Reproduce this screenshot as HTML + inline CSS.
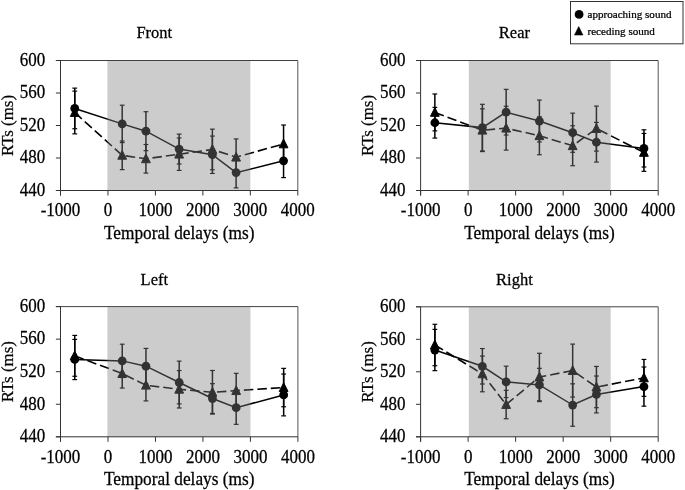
<!DOCTYPE html><html><head><meta charset="utf-8"><style>html,body{margin:0;padding:0;background:#fff;}svg{display:block;will-change:transform;}text{font-family:"Liberation Serif",serif;fill:#000;}</style></head><body>
<svg width="685" height="490" viewBox="0 0 685 490">
<line x1="74.74" y1="91.13" x2="74.74" y2="133.87" stroke="#000" stroke-width="1.5"/>
<line x1="72.34" y1="91.13" x2="77.14" y2="91.13" stroke="#000" stroke-width="1.2"/>
<line x1="72.34" y1="133.87" x2="77.14" y2="133.87" stroke="#000" stroke-width="1.2"/>
<line x1="122.2" y1="141.02" x2="122.2" y2="169.62" stroke="#000" stroke-width="1.5"/>
<line x1="119.8" y1="141.02" x2="124.6" y2="141.02" stroke="#000" stroke-width="1.2"/>
<line x1="119.8" y1="169.62" x2="124.6" y2="169.62" stroke="#000" stroke-width="1.2"/>
<line x1="145.93" y1="144.51" x2="145.93" y2="173.11" stroke="#000" stroke-width="1.5"/>
<line x1="143.53" y1="144.51" x2="148.33" y2="144.51" stroke="#000" stroke-width="1.2"/>
<line x1="143.53" y1="173.11" x2="148.33" y2="173.11" stroke="#000" stroke-width="1.2"/>
<line x1="179.15" y1="137.93" x2="179.15" y2="170.43" stroke="#000" stroke-width="1.5"/>
<line x1="176.75" y1="137.93" x2="181.55" y2="137.93" stroke="#000" stroke-width="1.2"/>
<line x1="176.75" y1="170.43" x2="181.55" y2="170.43" stroke="#000" stroke-width="1.2"/>
<line x1="212.37" y1="129.16" x2="212.37" y2="169.78" stroke="#000" stroke-width="1.5"/>
<line x1="209.97" y1="129.16" x2="214.77" y2="129.16" stroke="#000" stroke-width="1.2"/>
<line x1="209.97" y1="169.78" x2="214.77" y2="169.78" stroke="#000" stroke-width="1.2"/>
<line x1="236.1" y1="138.91" x2="236.1" y2="175.47" stroke="#000" stroke-width="1.5"/>
<line x1="233.7" y1="138.91" x2="238.5" y2="138.91" stroke="#000" stroke-width="1.2"/>
<line x1="233.7" y1="175.47" x2="238.5" y2="175.47" stroke="#000" stroke-width="1.2"/>
<line x1="283.56" y1="125.01" x2="283.56" y2="162.88" stroke="#000" stroke-width="1.5"/>
<line x1="281.16" y1="125.01" x2="285.96" y2="125.01" stroke="#000" stroke-width="1.2"/>
<line x1="281.16" y1="162.88" x2="285.96" y2="162.88" stroke="#000" stroke-width="1.2"/>
<line x1="74.74" y1="88.12" x2="74.74" y2="128.75" stroke="#000" stroke-width="1.5"/>
<line x1="72.34" y1="88.12" x2="77.14" y2="88.12" stroke="#000" stroke-width="1.2"/>
<line x1="72.34" y1="128.75" x2="77.14" y2="128.75" stroke="#000" stroke-width="1.2"/>
<line x1="122.2" y1="105.19" x2="122.2" y2="142.56" stroke="#000" stroke-width="1.5"/>
<line x1="119.8" y1="105.19" x2="124.6" y2="105.19" stroke="#000" stroke-width="1.2"/>
<line x1="119.8" y1="142.56" x2="124.6" y2="142.56" stroke="#000" stroke-width="1.2"/>
<line x1="145.93" y1="111.69" x2="145.93" y2="150.69" stroke="#000" stroke-width="1.5"/>
<line x1="143.53" y1="111.69" x2="148.33" y2="111.69" stroke="#000" stroke-width="1.2"/>
<line x1="143.53" y1="150.69" x2="148.33" y2="150.69" stroke="#000" stroke-width="1.2"/>
<line x1="179.15" y1="134.11" x2="179.15" y2="164.01" stroke="#000" stroke-width="1.5"/>
<line x1="176.75" y1="134.11" x2="181.55" y2="134.11" stroke="#000" stroke-width="1.2"/>
<line x1="176.75" y1="164.01" x2="181.55" y2="164.01" stroke="#000" stroke-width="1.2"/>
<line x1="212.37" y1="136.06" x2="212.37" y2="173.44" stroke="#000" stroke-width="1.5"/>
<line x1="209.97" y1="136.06" x2="214.77" y2="136.06" stroke="#000" stroke-width="1.2"/>
<line x1="209.97" y1="173.44" x2="214.77" y2="173.44" stroke="#000" stroke-width="1.2"/>
<line x1="236.1" y1="157.35" x2="236.1" y2="187.9" stroke="#000" stroke-width="1.5"/>
<line x1="233.7" y1="157.35" x2="238.5" y2="157.35" stroke="#000" stroke-width="1.2"/>
<line x1="233.7" y1="187.9" x2="238.5" y2="187.9" stroke="#000" stroke-width="1.2"/>
<line x1="283.56" y1="144.11" x2="283.56" y2="177.58" stroke="#000" stroke-width="1.5"/>
<line x1="281.16" y1="144.11" x2="285.96" y2="144.11" stroke="#000" stroke-width="1.2"/>
<line x1="281.16" y1="177.58" x2="285.96" y2="177.58" stroke="#000" stroke-width="1.2"/>
<polyline points="74.74,112.5 122.2,155.32 145.93,158.81 179.15,154.18 212.37,149.47 236.1,157.19 283.56,143.94" fill="none" stroke="#000" stroke-width="1.6" stroke-dasharray="9.5 4"/>
<polyline points="74.74,108.44 122.2,123.88 145.93,131.19 179.15,149.06 212.37,154.75 236.1,172.62 283.56,160.84" fill="none" stroke="#000" stroke-width="1.5"/>
<path d="M74.74 107.6L79.14 116.4L70.34 116.4Z" fill="#000" stroke="#000" stroke-width="1.0" stroke-linejoin="round"/>
<path d="M122.2 150.42L126.6 159.22L117.8 159.22Z" fill="#000" stroke="#000" stroke-width="1.0" stroke-linejoin="round"/>
<path d="M145.93 153.91L150.33 162.71L141.53 162.71Z" fill="#000" stroke="#000" stroke-width="1.0" stroke-linejoin="round"/>
<path d="M179.15 149.28L183.55 158.08L174.75 158.08Z" fill="#000" stroke="#000" stroke-width="1.0" stroke-linejoin="round"/>
<path d="M212.37 144.57L216.77 153.37L207.97 153.37Z" fill="#000" stroke="#000" stroke-width="1.0" stroke-linejoin="round"/>
<path d="M236.1 152.29L240.5 161.09L231.7 161.09Z" fill="#000" stroke="#000" stroke-width="1.0" stroke-linejoin="round"/>
<path d="M283.56 139.04L287.96 147.84L279.16 147.84Z" fill="#000" stroke="#000" stroke-width="1.0" stroke-linejoin="round"/>
<circle cx="74.74" cy="108.44" r="4.4" fill="#000"/>
<circle cx="122.2" cy="123.88" r="4.4" fill="#000"/>
<circle cx="145.93" cy="131.19" r="4.4" fill="#000"/>
<circle cx="179.15" cy="149.06" r="4.4" fill="#000"/>
<circle cx="212.37" cy="154.75" r="4.4" fill="#000"/>
<circle cx="236.1" cy="172.62" r="4.4" fill="#000"/>
<circle cx="283.56" cy="160.84" r="4.4" fill="#000"/>
<rect x="107.4" y="61" width="142.94" height="129.5" fill="rgba(128,128,128,0.4)"/>
<line x1="55.9" y1="60.5" x2="297.8" y2="60.5" stroke="#404040" stroke-width="1"/>
<line x1="297.8" y1="60.5" x2="297.8" y2="190.5" stroke="#555" stroke-width="1"/>
<line x1="60.5" y1="60.5" x2="60.5" y2="195.5" stroke="#333" stroke-width="1"/>
<line x1="55.9" y1="190.5" x2="297.8" y2="190.5" stroke="#333" stroke-width="1"/>
<line x1="55.9" y1="60.5" x2="60.5" y2="60.5" stroke="#333" stroke-width="1"/>
<text transform="translate(45.3 65.8) scale(1 1.12)" font-size="17" text-anchor="end" stroke="#000" stroke-width="0.25">600</text>
<line x1="55.9" y1="93" x2="60.5" y2="93" stroke="#333" stroke-width="1"/>
<text transform="translate(45.3 98.3) scale(1 1.12)" font-size="17" text-anchor="end" stroke="#000" stroke-width="0.25">560</text>
<line x1="55.9" y1="125.5" x2="60.5" y2="125.5" stroke="#333" stroke-width="1"/>
<text transform="translate(45.3 130.8) scale(1 1.12)" font-size="17" text-anchor="end" stroke="#000" stroke-width="0.25">520</text>
<line x1="55.9" y1="158" x2="60.5" y2="158" stroke="#333" stroke-width="1"/>
<text transform="translate(45.3 163.3) scale(1 1.12)" font-size="17" text-anchor="end" stroke="#000" stroke-width="0.25">480</text>
<line x1="55.9" y1="190.5" x2="60.5" y2="190.5" stroke="#333" stroke-width="1"/>
<text transform="translate(45.3 195.8) scale(1 1.12)" font-size="17" text-anchor="end" stroke="#000" stroke-width="0.25">440</text>
<line x1="60.5" y1="190.5" x2="60.5" y2="195.5" stroke="#333" stroke-width="1"/>
<text transform="translate(60.5 216.3) scale(1 1.12)" font-size="17" text-anchor="middle" stroke="#000" stroke-width="0.25">-1000</text>
<line x1="107.96" y1="190.5" x2="107.96" y2="195.5" stroke="#333" stroke-width="1"/>
<text transform="translate(107.96 216.3) scale(1 1.12)" font-size="17" text-anchor="middle" stroke="#000" stroke-width="0.25">0</text>
<line x1="155.42" y1="190.5" x2="155.42" y2="195.5" stroke="#333" stroke-width="1"/>
<text transform="translate(155.42 216.3) scale(1 1.12)" font-size="17" text-anchor="middle" stroke="#000" stroke-width="0.25">1000</text>
<line x1="202.88" y1="190.5" x2="202.88" y2="195.5" stroke="#333" stroke-width="1"/>
<text transform="translate(202.88 216.3) scale(1 1.12)" font-size="17" text-anchor="middle" stroke="#000" stroke-width="0.25">2000</text>
<line x1="250.34" y1="190.5" x2="250.34" y2="195.5" stroke="#333" stroke-width="1"/>
<text transform="translate(250.34 216.3) scale(1 1.12)" font-size="17" text-anchor="middle" stroke="#000" stroke-width="0.25">3000</text>
<line x1="297.8" y1="190.5" x2="297.8" y2="195.5" stroke="#333" stroke-width="1"/>
<text transform="translate(297.8 216.3) scale(1 1.12)" font-size="17" text-anchor="middle" stroke="#000" stroke-width="0.25">4000</text>
<text transform="translate(179.15 238.5) scale(1 1.06)" font-size="17.3" text-anchor="middle" stroke="#000" stroke-width="0.25">Temporal delays (ms)</text>
<text transform="translate(13.2 125.5) rotate(-90) scale(1 1.0)" font-size="16.9" text-anchor="middle" stroke="#000" stroke-width="0.25">RTs (ms)</text>
<text transform="translate(154.3 38) scale(1 1.06)" font-size="16.5" text-anchor="middle" stroke="#000" stroke-width="0.25">Front</text>
<line x1="434.86" y1="93.97" x2="434.86" y2="130.86" stroke="#000" stroke-width="1.5"/>
<line x1="432.46" y1="93.97" x2="437.26" y2="93.97" stroke="#000" stroke-width="1.2"/>
<line x1="432.46" y1="130.86" x2="437.26" y2="130.86" stroke="#000" stroke-width="1.2"/>
<line x1="482.38" y1="108.84" x2="482.38" y2="151.58" stroke="#000" stroke-width="1.5"/>
<line x1="479.98" y1="108.84" x2="484.78" y2="108.84" stroke="#000" stroke-width="1.2"/>
<line x1="479.98" y1="151.58" x2="484.78" y2="151.58" stroke="#000" stroke-width="1.2"/>
<line x1="506.14" y1="106.24" x2="506.14" y2="150.12" stroke="#000" stroke-width="1.5"/>
<line x1="503.74" y1="106.24" x2="508.54" y2="106.24" stroke="#000" stroke-width="1.2"/>
<line x1="503.74" y1="150.12" x2="508.54" y2="150.12" stroke="#000" stroke-width="1.2"/>
<line x1="539.4" y1="116.73" x2="539.4" y2="154.75" stroke="#000" stroke-width="1.5"/>
<line x1="537" y1="116.73" x2="541.8" y2="116.73" stroke="#000" stroke-width="1.2"/>
<line x1="537" y1="154.75" x2="541.8" y2="154.75" stroke="#000" stroke-width="1.2"/>
<line x1="572.66" y1="125.74" x2="572.66" y2="165.72" stroke="#000" stroke-width="1.5"/>
<line x1="570.26" y1="125.74" x2="575.06" y2="125.74" stroke="#000" stroke-width="1.2"/>
<line x1="570.26" y1="165.72" x2="575.06" y2="165.72" stroke="#000" stroke-width="1.2"/>
<line x1="596.42" y1="106.08" x2="596.42" y2="151.09" stroke="#000" stroke-width="1.5"/>
<line x1="594.02" y1="106.08" x2="598.82" y2="106.08" stroke="#000" stroke-width="1.2"/>
<line x1="594.02" y1="151.09" x2="598.82" y2="151.09" stroke="#000" stroke-width="1.2"/>
<line x1="643.94" y1="133.46" x2="643.94" y2="171.33" stroke="#000" stroke-width="1.5"/>
<line x1="641.54" y1="133.46" x2="646.34" y2="133.46" stroke="#000" stroke-width="1.2"/>
<line x1="641.54" y1="171.33" x2="646.34" y2="171.33" stroke="#000" stroke-width="1.2"/>
<line x1="434.86" y1="107.38" x2="434.86" y2="138.09" stroke="#000" stroke-width="1.5"/>
<line x1="432.46" y1="107.38" x2="437.26" y2="107.38" stroke="#000" stroke-width="1.2"/>
<line x1="432.46" y1="138.09" x2="437.26" y2="138.09" stroke="#000" stroke-width="1.2"/>
<line x1="482.38" y1="104.29" x2="482.38" y2="150.93" stroke="#000" stroke-width="1.5"/>
<line x1="479.98" y1="104.29" x2="484.78" y2="104.29" stroke="#000" stroke-width="1.2"/>
<line x1="479.98" y1="150.93" x2="484.78" y2="150.93" stroke="#000" stroke-width="1.2"/>
<line x1="506.14" y1="89.34" x2="506.14" y2="135.01" stroke="#000" stroke-width="1.5"/>
<line x1="503.74" y1="89.34" x2="508.54" y2="89.34" stroke="#000" stroke-width="1.2"/>
<line x1="503.74" y1="135.01" x2="508.54" y2="135.01" stroke="#000" stroke-width="1.2"/>
<line x1="539.4" y1="100.07" x2="539.4" y2="141.99" stroke="#000" stroke-width="1.5"/>
<line x1="537" y1="100.07" x2="541.8" y2="100.07" stroke="#000" stroke-width="1.2"/>
<line x1="537" y1="141.99" x2="541.8" y2="141.99" stroke="#000" stroke-width="1.2"/>
<line x1="572.66" y1="113.15" x2="572.66" y2="152.31" stroke="#000" stroke-width="1.5"/>
<line x1="570.26" y1="113.15" x2="575.06" y2="113.15" stroke="#000" stroke-width="1.2"/>
<line x1="570.26" y1="152.31" x2="575.06" y2="152.31" stroke="#000" stroke-width="1.2"/>
<line x1="596.42" y1="122.41" x2="596.42" y2="162.06" stroke="#000" stroke-width="1.5"/>
<line x1="594.02" y1="122.41" x2="598.82" y2="122.41" stroke="#000" stroke-width="1.2"/>
<line x1="594.02" y1="162.06" x2="598.82" y2="162.06" stroke="#000" stroke-width="1.2"/>
<line x1="643.94" y1="129.81" x2="643.94" y2="167.02" stroke="#000" stroke-width="1.5"/>
<line x1="641.54" y1="129.81" x2="646.34" y2="129.81" stroke="#000" stroke-width="1.2"/>
<line x1="641.54" y1="167.02" x2="646.34" y2="167.02" stroke="#000" stroke-width="1.2"/>
<polyline points="434.86,112.42 482.38,130.21 506.14,128.18 539.4,135.74 572.66,145.73 596.42,128.59 643.94,152.39" fill="none" stroke="#000" stroke-width="1.6" stroke-dasharray="9.5 4"/>
<polyline points="434.86,122.74 482.38,127.61 506.14,112.18 539.4,121.03 572.66,132.73 596.42,142.24 643.94,148.41" fill="none" stroke="#000" stroke-width="1.5"/>
<path d="M434.86 107.52L439.26 116.32L430.46 116.32Z" fill="#000" stroke="#000" stroke-width="1.0" stroke-linejoin="round"/>
<path d="M482.38 125.31L486.78 134.11L477.98 134.11Z" fill="#000" stroke="#000" stroke-width="1.0" stroke-linejoin="round"/>
<path d="M506.14 123.28L510.54 132.08L501.74 132.08Z" fill="#000" stroke="#000" stroke-width="1.0" stroke-linejoin="round"/>
<path d="M539.4 130.84L543.8 139.64L535 139.64Z" fill="#000" stroke="#000" stroke-width="1.0" stroke-linejoin="round"/>
<path d="M572.66 140.83L577.06 149.63L568.26 149.63Z" fill="#000" stroke="#000" stroke-width="1.0" stroke-linejoin="round"/>
<path d="M596.42 123.69L600.82 132.49L592.02 132.49Z" fill="#000" stroke="#000" stroke-width="1.0" stroke-linejoin="round"/>
<path d="M643.94 147.49L648.34 156.29L639.54 156.29Z" fill="#000" stroke="#000" stroke-width="1.0" stroke-linejoin="round"/>
<circle cx="434.86" cy="122.74" r="4.4" fill="#000"/>
<circle cx="482.38" cy="127.61" r="4.4" fill="#000"/>
<circle cx="506.14" cy="112.18" r="4.4" fill="#000"/>
<circle cx="539.4" cy="121.03" r="4.4" fill="#000"/>
<circle cx="572.66" cy="132.73" r="4.4" fill="#000"/>
<circle cx="596.42" cy="142.24" r="4.4" fill="#000"/>
<circle cx="643.94" cy="148.41" r="4.4" fill="#000"/>
<rect x="468.8" y="61" width="141.88" height="129.5" fill="rgba(128,128,128,0.4)"/>
<line x1="416" y1="60.5" x2="658.2" y2="60.5" stroke="#404040" stroke-width="1"/>
<line x1="658.2" y1="60.5" x2="658.2" y2="190.5" stroke="#555" stroke-width="1"/>
<line x1="420.6" y1="60.5" x2="420.6" y2="195.5" stroke="#333" stroke-width="1"/>
<line x1="416" y1="190.5" x2="658.2" y2="190.5" stroke="#333" stroke-width="1"/>
<line x1="416" y1="60.5" x2="420.6" y2="60.5" stroke="#333" stroke-width="1"/>
<text transform="translate(405.4 65.8) scale(1 1.12)" font-size="17" text-anchor="end" stroke="#000" stroke-width="0.25">600</text>
<line x1="416" y1="93" x2="420.6" y2="93" stroke="#333" stroke-width="1"/>
<text transform="translate(405.4 98.3) scale(1 1.12)" font-size="17" text-anchor="end" stroke="#000" stroke-width="0.25">560</text>
<line x1="416" y1="125.5" x2="420.6" y2="125.5" stroke="#333" stroke-width="1"/>
<text transform="translate(405.4 130.8) scale(1 1.12)" font-size="17" text-anchor="end" stroke="#000" stroke-width="0.25">520</text>
<line x1="416" y1="158" x2="420.6" y2="158" stroke="#333" stroke-width="1"/>
<text transform="translate(405.4 163.3) scale(1 1.12)" font-size="17" text-anchor="end" stroke="#000" stroke-width="0.25">480</text>
<line x1="416" y1="190.5" x2="420.6" y2="190.5" stroke="#333" stroke-width="1"/>
<text transform="translate(405.4 195.8) scale(1 1.12)" font-size="17" text-anchor="end" stroke="#000" stroke-width="0.25">440</text>
<line x1="420.6" y1="190.5" x2="420.6" y2="195.5" stroke="#333" stroke-width="1"/>
<text transform="translate(420.6 216.3) scale(1 1.12)" font-size="17" text-anchor="middle" stroke="#000" stroke-width="0.25">-1000</text>
<line x1="468.12" y1="190.5" x2="468.12" y2="195.5" stroke="#333" stroke-width="1"/>
<text transform="translate(468.12 216.3) scale(1 1.12)" font-size="17" text-anchor="middle" stroke="#000" stroke-width="0.25">0</text>
<line x1="515.64" y1="190.5" x2="515.64" y2="195.5" stroke="#333" stroke-width="1"/>
<text transform="translate(515.64 216.3) scale(1 1.12)" font-size="17" text-anchor="middle" stroke="#000" stroke-width="0.25">1000</text>
<line x1="563.16" y1="190.5" x2="563.16" y2="195.5" stroke="#333" stroke-width="1"/>
<text transform="translate(563.16 216.3) scale(1 1.12)" font-size="17" text-anchor="middle" stroke="#000" stroke-width="0.25">2000</text>
<line x1="610.68" y1="190.5" x2="610.68" y2="195.5" stroke="#333" stroke-width="1"/>
<text transform="translate(610.68 216.3) scale(1 1.12)" font-size="17" text-anchor="middle" stroke="#000" stroke-width="0.25">3000</text>
<line x1="658.2" y1="190.5" x2="658.2" y2="195.5" stroke="#333" stroke-width="1"/>
<text transform="translate(658.2 216.3) scale(1 1.12)" font-size="17" text-anchor="middle" stroke="#000" stroke-width="0.25">4000</text>
<text transform="translate(539.4 238.5) scale(1 1.06)" font-size="17.3" text-anchor="middle" stroke="#000" stroke-width="0.25">Temporal delays (ms)</text>
<text transform="translate(373.3 125.5) rotate(-90) scale(1 1.0)" font-size="16.9" text-anchor="middle" stroke="#000" stroke-width="0.25">RTs (ms)</text>
<text transform="translate(514.4 38) scale(1 1.06)" font-size="16.5" text-anchor="middle" stroke="#000" stroke-width="0.25">Rear</text>
<line x1="74.74" y1="335.41" x2="74.74" y2="376.26" stroke="#000" stroke-width="1.5"/>
<line x1="72.34" y1="335.41" x2="77.14" y2="335.41" stroke="#000" stroke-width="1.2"/>
<line x1="72.34" y1="376.26" x2="77.14" y2="376.26" stroke="#000" stroke-width="1.2"/>
<line x1="122.22" y1="359.09" x2="122.22" y2="388.06" stroke="#000" stroke-width="1.5"/>
<line x1="119.82" y1="359.09" x2="124.62" y2="359.09" stroke="#000" stroke-width="1.2"/>
<line x1="119.82" y1="388.06" x2="124.62" y2="388.06" stroke="#000" stroke-width="1.2"/>
<line x1="145.96" y1="369.5" x2="145.96" y2="400.91" stroke="#000" stroke-width="1.5"/>
<line x1="143.56" y1="369.5" x2="148.36" y2="369.5" stroke="#000" stroke-width="1.2"/>
<line x1="143.56" y1="400.91" x2="148.36" y2="400.91" stroke="#000" stroke-width="1.2"/>
<line x1="179.2" y1="370.56" x2="179.2" y2="407.99" stroke="#000" stroke-width="1.5"/>
<line x1="176.8" y1="370.56" x2="181.6" y2="370.56" stroke="#000" stroke-width="1.2"/>
<line x1="176.8" y1="407.99" x2="181.6" y2="407.99" stroke="#000" stroke-width="1.2"/>
<line x1="212.44" y1="370.48" x2="212.44" y2="414.1" stroke="#000" stroke-width="1.5"/>
<line x1="210.04" y1="370.48" x2="214.84" y2="370.48" stroke="#000" stroke-width="1.2"/>
<line x1="210.04" y1="414.1" x2="214.84" y2="414.1" stroke="#000" stroke-width="1.2"/>
<line x1="236.18" y1="373.33" x2="236.18" y2="407.99" stroke="#000" stroke-width="1.5"/>
<line x1="233.78" y1="373.33" x2="238.58" y2="373.33" stroke="#000" stroke-width="1.2"/>
<line x1="233.78" y1="407.99" x2="238.58" y2="407.99" stroke="#000" stroke-width="1.2"/>
<line x1="283.66" y1="368.36" x2="283.66" y2="406.77" stroke="#000" stroke-width="1.5"/>
<line x1="281.26" y1="368.36" x2="286.06" y2="368.36" stroke="#000" stroke-width="1.2"/>
<line x1="281.26" y1="406.77" x2="286.06" y2="406.77" stroke="#000" stroke-width="1.2"/>
<line x1="74.74" y1="339.39" x2="74.74" y2="379.59" stroke="#000" stroke-width="1.5"/>
<line x1="72.34" y1="339.39" x2="77.14" y2="339.39" stroke="#000" stroke-width="1.2"/>
<line x1="72.34" y1="379.59" x2="77.14" y2="379.59" stroke="#000" stroke-width="1.2"/>
<line x1="122.22" y1="344.2" x2="122.22" y2="377.56" stroke="#000" stroke-width="1.5"/>
<line x1="119.82" y1="344.2" x2="124.62" y2="344.2" stroke="#000" stroke-width="1.2"/>
<line x1="119.82" y1="377.56" x2="124.62" y2="377.56" stroke="#000" stroke-width="1.2"/>
<line x1="145.96" y1="348.43" x2="145.96" y2="383.91" stroke="#000" stroke-width="1.5"/>
<line x1="143.56" y1="348.43" x2="148.36" y2="348.43" stroke="#000" stroke-width="1.2"/>
<line x1="143.56" y1="383.91" x2="148.36" y2="383.91" stroke="#000" stroke-width="1.2"/>
<line x1="179.2" y1="361.12" x2="179.2" y2="403.92" stroke="#000" stroke-width="1.5"/>
<line x1="176.8" y1="361.12" x2="181.6" y2="361.12" stroke="#000" stroke-width="1.2"/>
<line x1="176.8" y1="403.92" x2="181.6" y2="403.92" stroke="#000" stroke-width="1.2"/>
<line x1="212.44" y1="383.66" x2="212.44" y2="413.45" stroke="#000" stroke-width="1.5"/>
<line x1="210.04" y1="383.66" x2="214.84" y2="383.66" stroke="#000" stroke-width="1.2"/>
<line x1="210.04" y1="413.45" x2="214.84" y2="413.45" stroke="#000" stroke-width="1.2"/>
<line x1="236.18" y1="390.99" x2="236.18" y2="424.35" stroke="#000" stroke-width="1.5"/>
<line x1="233.78" y1="390.99" x2="238.58" y2="390.99" stroke="#000" stroke-width="1.2"/>
<line x1="233.78" y1="424.35" x2="238.58" y2="424.35" stroke="#000" stroke-width="1.2"/>
<line x1="283.66" y1="374.06" x2="283.66" y2="415.89" stroke="#000" stroke-width="1.5"/>
<line x1="281.26" y1="374.06" x2="286.06" y2="374.06" stroke="#000" stroke-width="1.2"/>
<line x1="281.26" y1="415.89" x2="286.06" y2="415.89" stroke="#000" stroke-width="1.2"/>
<polyline points="74.74,355.83 122.22,373.57 145.96,385.21 179.2,389.28 212.44,392.29 236.18,390.66 283.66,387.57" fill="none" stroke="#000" stroke-width="1.6" stroke-dasharray="9.5 4"/>
<polyline points="74.74,359.49 122.22,360.88 145.96,366.17 179.2,382.52 212.44,398.55 236.18,407.67 283.66,394.97" fill="none" stroke="#000" stroke-width="1.5"/>
<path d="M74.74 350.93L79.14 359.73L70.34 359.73Z" fill="#000" stroke="#000" stroke-width="1.0" stroke-linejoin="round"/>
<path d="M122.22 368.67L126.62 377.47L117.82 377.47Z" fill="#000" stroke="#000" stroke-width="1.0" stroke-linejoin="round"/>
<path d="M145.96 380.31L150.36 389.11L141.56 389.11Z" fill="#000" stroke="#000" stroke-width="1.0" stroke-linejoin="round"/>
<path d="M179.2 384.38L183.6 393.18L174.8 393.18Z" fill="#000" stroke="#000" stroke-width="1.0" stroke-linejoin="round"/>
<path d="M212.44 387.39L216.84 396.19L208.04 396.19Z" fill="#000" stroke="#000" stroke-width="1.0" stroke-linejoin="round"/>
<path d="M236.18 385.76L240.58 394.56L231.78 394.56Z" fill="#000" stroke="#000" stroke-width="1.0" stroke-linejoin="round"/>
<path d="M283.66 382.67L288.06 391.47L279.26 391.47Z" fill="#000" stroke="#000" stroke-width="1.0" stroke-linejoin="round"/>
<circle cx="74.74" cy="359.49" r="4.4" fill="#000"/>
<circle cx="122.22" cy="360.88" r="4.4" fill="#000"/>
<circle cx="145.96" cy="366.17" r="4.4" fill="#000"/>
<circle cx="179.2" cy="382.52" r="4.4" fill="#000"/>
<circle cx="212.44" cy="398.55" r="4.4" fill="#000"/>
<circle cx="236.18" cy="407.67" r="4.4" fill="#000"/>
<circle cx="283.66" cy="394.97" r="4.4" fill="#000"/>
<rect x="107.4" y="307.1" width="143.02" height="129.7" fill="rgba(128,128,128,0.4)"/>
<line x1="55.9" y1="306.6" x2="297.9" y2="306.6" stroke="#404040" stroke-width="1"/>
<line x1="297.9" y1="306.6" x2="297.9" y2="436.8" stroke="#555" stroke-width="1"/>
<line x1="60.5" y1="306.6" x2="60.5" y2="441.8" stroke="#333" stroke-width="1"/>
<line x1="55.9" y1="436.8" x2="297.9" y2="436.8" stroke="#333" stroke-width="1"/>
<line x1="55.9" y1="306.6" x2="60.5" y2="306.6" stroke="#333" stroke-width="1"/>
<text transform="translate(45.3 311.9) scale(1 1.12)" font-size="17" text-anchor="end" stroke="#000" stroke-width="0.25">600</text>
<line x1="55.9" y1="339.15" x2="60.5" y2="339.15" stroke="#333" stroke-width="1"/>
<text transform="translate(45.3 344.45) scale(1 1.12)" font-size="17" text-anchor="end" stroke="#000" stroke-width="0.25">560</text>
<line x1="55.9" y1="371.7" x2="60.5" y2="371.7" stroke="#333" stroke-width="1"/>
<text transform="translate(45.3 377) scale(1 1.12)" font-size="17" text-anchor="end" stroke="#000" stroke-width="0.25">520</text>
<line x1="55.9" y1="404.25" x2="60.5" y2="404.25" stroke="#333" stroke-width="1"/>
<text transform="translate(45.3 409.55) scale(1 1.12)" font-size="17" text-anchor="end" stroke="#000" stroke-width="0.25">480</text>
<line x1="55.9" y1="436.8" x2="60.5" y2="436.8" stroke="#333" stroke-width="1"/>
<text transform="translate(45.3 442.1) scale(1 1.12)" font-size="17" text-anchor="end" stroke="#000" stroke-width="0.25">440</text>
<line x1="60.5" y1="436.8" x2="60.5" y2="441.8" stroke="#333" stroke-width="1"/>
<text transform="translate(60.5 462.6) scale(1 1.12)" font-size="17" text-anchor="middle" stroke="#000" stroke-width="0.25">-1000</text>
<line x1="107.98" y1="436.8" x2="107.98" y2="441.8" stroke="#333" stroke-width="1"/>
<text transform="translate(107.98 462.6) scale(1 1.12)" font-size="17" text-anchor="middle" stroke="#000" stroke-width="0.25">0</text>
<line x1="155.46" y1="436.8" x2="155.46" y2="441.8" stroke="#333" stroke-width="1"/>
<text transform="translate(155.46 462.6) scale(1 1.12)" font-size="17" text-anchor="middle" stroke="#000" stroke-width="0.25">1000</text>
<line x1="202.94" y1="436.8" x2="202.94" y2="441.8" stroke="#333" stroke-width="1"/>
<text transform="translate(202.94 462.6) scale(1 1.12)" font-size="17" text-anchor="middle" stroke="#000" stroke-width="0.25">2000</text>
<line x1="250.42" y1="436.8" x2="250.42" y2="441.8" stroke="#333" stroke-width="1"/>
<text transform="translate(250.42 462.6) scale(1 1.12)" font-size="17" text-anchor="middle" stroke="#000" stroke-width="0.25">3000</text>
<line x1="297.9" y1="436.8" x2="297.9" y2="441.8" stroke="#333" stroke-width="1"/>
<text transform="translate(297.9 462.6) scale(1 1.12)" font-size="17" text-anchor="middle" stroke="#000" stroke-width="0.25">4000</text>
<text transform="translate(179.2 484.8) scale(1 1.06)" font-size="17.3" text-anchor="middle" stroke="#000" stroke-width="0.25">Temporal delays (ms)</text>
<text transform="translate(13.2 371.7) rotate(-90) scale(1 1.0)" font-size="16.9" text-anchor="middle" stroke="#000" stroke-width="0.25">RTs (ms)</text>
<text transform="translate(154.3 285) scale(1 1.06)" font-size="16.5" text-anchor="middle" stroke="#000" stroke-width="0.25">Left</text>
<line x1="434.86" y1="324.27" x2="434.86" y2="365.71" stroke="#000" stroke-width="1.5"/>
<line x1="432.46" y1="324.27" x2="437.26" y2="324.27" stroke="#000" stroke-width="1.2"/>
<line x1="432.46" y1="365.71" x2="437.26" y2="365.71" stroke="#000" stroke-width="1.2"/>
<line x1="482.38" y1="356.04" x2="482.38" y2="391.79" stroke="#000" stroke-width="1.5"/>
<line x1="479.98" y1="356.04" x2="484.78" y2="356.04" stroke="#000" stroke-width="1.2"/>
<line x1="479.98" y1="391.79" x2="484.78" y2="391.79" stroke="#000" stroke-width="1.2"/>
<line x1="506.14" y1="390.33" x2="506.14" y2="418.76" stroke="#000" stroke-width="1.5"/>
<line x1="503.74" y1="390.33" x2="508.54" y2="390.33" stroke="#000" stroke-width="1.2"/>
<line x1="503.74" y1="418.76" x2="508.54" y2="418.76" stroke="#000" stroke-width="1.2"/>
<line x1="539.4" y1="353.27" x2="539.4" y2="400.72" stroke="#000" stroke-width="1.5"/>
<line x1="537" y1="353.27" x2="541.8" y2="353.27" stroke="#000" stroke-width="1.2"/>
<line x1="537" y1="400.72" x2="541.8" y2="400.72" stroke="#000" stroke-width="1.2"/>
<line x1="572.66" y1="344.09" x2="572.66" y2="397.07" stroke="#000" stroke-width="1.5"/>
<line x1="570.26" y1="344.09" x2="575.06" y2="344.09" stroke="#000" stroke-width="1.2"/>
<line x1="570.26" y1="397.07" x2="575.06" y2="397.07" stroke="#000" stroke-width="1.2"/>
<line x1="596.42" y1="366.44" x2="596.42" y2="407.71" stroke="#000" stroke-width="1.5"/>
<line x1="594.02" y1="366.44" x2="598.82" y2="366.44" stroke="#000" stroke-width="1.2"/>
<line x1="594.02" y1="407.71" x2="598.82" y2="407.71" stroke="#000" stroke-width="1.2"/>
<line x1="643.94" y1="359.45" x2="643.94" y2="396.34" stroke="#000" stroke-width="1.5"/>
<line x1="641.54" y1="359.45" x2="646.34" y2="359.45" stroke="#000" stroke-width="1.2"/>
<line x1="641.54" y1="396.34" x2="646.34" y2="396.34" stroke="#000" stroke-width="1.2"/>
<line x1="434.86" y1="329.39" x2="434.86" y2="370.66" stroke="#000" stroke-width="1.5"/>
<line x1="432.46" y1="329.39" x2="437.26" y2="329.39" stroke="#000" stroke-width="1.2"/>
<line x1="432.46" y1="370.66" x2="437.26" y2="370.66" stroke="#000" stroke-width="1.2"/>
<line x1="482.38" y1="348.56" x2="482.38" y2="383.99" stroke="#000" stroke-width="1.5"/>
<line x1="479.98" y1="348.56" x2="484.78" y2="348.56" stroke="#000" stroke-width="1.2"/>
<line x1="479.98" y1="383.99" x2="484.78" y2="383.99" stroke="#000" stroke-width="1.2"/>
<line x1="506.14" y1="366.19" x2="506.14" y2="397.56" stroke="#000" stroke-width="1.5"/>
<line x1="503.74" y1="366.19" x2="508.54" y2="366.19" stroke="#000" stroke-width="1.2"/>
<line x1="503.74" y1="397.56" x2="508.54" y2="397.56" stroke="#000" stroke-width="1.2"/>
<line x1="539.4" y1="368.31" x2="539.4" y2="401.62" stroke="#000" stroke-width="1.5"/>
<line x1="537" y1="368.31" x2="541.8" y2="368.31" stroke="#000" stroke-width="1.2"/>
<line x1="537" y1="401.62" x2="541.8" y2="401.62" stroke="#000" stroke-width="1.2"/>
<line x1="572.66" y1="383.82" x2="572.66" y2="426.24" stroke="#000" stroke-width="1.5"/>
<line x1="570.26" y1="383.82" x2="575.06" y2="383.82" stroke="#000" stroke-width="1.2"/>
<line x1="570.26" y1="426.24" x2="575.06" y2="426.24" stroke="#000" stroke-width="1.2"/>
<line x1="596.42" y1="376.02" x2="596.42" y2="412.91" stroke="#000" stroke-width="1.5"/>
<line x1="594.02" y1="376.02" x2="598.82" y2="376.02" stroke="#000" stroke-width="1.2"/>
<line x1="594.02" y1="412.91" x2="598.82" y2="412.91" stroke="#000" stroke-width="1.2"/>
<line x1="643.94" y1="367.01" x2="643.94" y2="406.17" stroke="#000" stroke-width="1.5"/>
<line x1="641.54" y1="367.01" x2="646.34" y2="367.01" stroke="#000" stroke-width="1.2"/>
<line x1="641.54" y1="406.17" x2="646.34" y2="406.17" stroke="#000" stroke-width="1.2"/>
<polyline points="434.86,344.99 482.38,373.91 506.14,404.54 539.4,377 572.66,370.58 596.42,387.08 643.94,377.89" fill="none" stroke="#000" stroke-width="1.6" stroke-dasharray="9.5 4"/>
<polyline points="434.86,350.03 482.38,366.28 506.14,381.88 539.4,384.96 572.66,405.03 596.42,394.47 643.94,386.59" fill="none" stroke="#000" stroke-width="1.5"/>
<path d="M434.86 340.09L439.26 348.89L430.46 348.89Z" fill="#000" stroke="#000" stroke-width="1.0" stroke-linejoin="round"/>
<path d="M482.38 369.01L486.78 377.81L477.98 377.81Z" fill="#000" stroke="#000" stroke-width="1.0" stroke-linejoin="round"/>
<path d="M506.14 399.64L510.54 408.44L501.74 408.44Z" fill="#000" stroke="#000" stroke-width="1.0" stroke-linejoin="round"/>
<path d="M539.4 372.1L543.8 380.9L535 380.9Z" fill="#000" stroke="#000" stroke-width="1.0" stroke-linejoin="round"/>
<path d="M572.66 365.68L577.06 374.48L568.26 374.48Z" fill="#000" stroke="#000" stroke-width="1.0" stroke-linejoin="round"/>
<path d="M596.42 382.18L600.82 390.98L592.02 390.98Z" fill="#000" stroke="#000" stroke-width="1.0" stroke-linejoin="round"/>
<path d="M643.94 372.99L648.34 381.79L639.54 381.79Z" fill="#000" stroke="#000" stroke-width="1.0" stroke-linejoin="round"/>
<circle cx="434.86" cy="350.03" r="4.4" fill="#000"/>
<circle cx="482.38" cy="366.28" r="4.4" fill="#000"/>
<circle cx="506.14" cy="381.88" r="4.4" fill="#000"/>
<circle cx="539.4" cy="384.96" r="4.4" fill="#000"/>
<circle cx="572.66" cy="405.03" r="4.4" fill="#000"/>
<circle cx="596.42" cy="394.47" r="4.4" fill="#000"/>
<circle cx="643.94" cy="386.59" r="4.4" fill="#000"/>
<rect x="468.8" y="307.3" width="141.88" height="129.5" fill="rgba(128,128,128,0.4)"/>
<line x1="416" y1="306.8" x2="658.2" y2="306.8" stroke="#404040" stroke-width="1"/>
<line x1="658.2" y1="306.8" x2="658.2" y2="436.8" stroke="#555" stroke-width="1"/>
<line x1="420.6" y1="306.8" x2="420.6" y2="441.8" stroke="#333" stroke-width="1"/>
<line x1="416" y1="436.8" x2="658.2" y2="436.8" stroke="#333" stroke-width="1"/>
<line x1="416" y1="306.8" x2="420.6" y2="306.8" stroke="#333" stroke-width="1"/>
<text transform="translate(405.4 312.1) scale(1 1.12)" font-size="17" text-anchor="end" stroke="#000" stroke-width="0.25">600</text>
<line x1="416" y1="339.3" x2="420.6" y2="339.3" stroke="#333" stroke-width="1"/>
<text transform="translate(405.4 344.6) scale(1 1.12)" font-size="17" text-anchor="end" stroke="#000" stroke-width="0.25">560</text>
<line x1="416" y1="371.8" x2="420.6" y2="371.8" stroke="#333" stroke-width="1"/>
<text transform="translate(405.4 377.1) scale(1 1.12)" font-size="17" text-anchor="end" stroke="#000" stroke-width="0.25">520</text>
<line x1="416" y1="404.3" x2="420.6" y2="404.3" stroke="#333" stroke-width="1"/>
<text transform="translate(405.4 409.6) scale(1 1.12)" font-size="17" text-anchor="end" stroke="#000" stroke-width="0.25">480</text>
<line x1="416" y1="436.8" x2="420.6" y2="436.8" stroke="#333" stroke-width="1"/>
<text transform="translate(405.4 442.1) scale(1 1.12)" font-size="17" text-anchor="end" stroke="#000" stroke-width="0.25">440</text>
<line x1="420.6" y1="436.8" x2="420.6" y2="441.8" stroke="#333" stroke-width="1"/>
<text transform="translate(420.6 462.6) scale(1 1.12)" font-size="17" text-anchor="middle" stroke="#000" stroke-width="0.25">-1000</text>
<line x1="468.12" y1="436.8" x2="468.12" y2="441.8" stroke="#333" stroke-width="1"/>
<text transform="translate(468.12 462.6) scale(1 1.12)" font-size="17" text-anchor="middle" stroke="#000" stroke-width="0.25">0</text>
<line x1="515.64" y1="436.8" x2="515.64" y2="441.8" stroke="#333" stroke-width="1"/>
<text transform="translate(515.64 462.6) scale(1 1.12)" font-size="17" text-anchor="middle" stroke="#000" stroke-width="0.25">1000</text>
<line x1="563.16" y1="436.8" x2="563.16" y2="441.8" stroke="#333" stroke-width="1"/>
<text transform="translate(563.16 462.6) scale(1 1.12)" font-size="17" text-anchor="middle" stroke="#000" stroke-width="0.25">2000</text>
<line x1="610.68" y1="436.8" x2="610.68" y2="441.8" stroke="#333" stroke-width="1"/>
<text transform="translate(610.68 462.6) scale(1 1.12)" font-size="17" text-anchor="middle" stroke="#000" stroke-width="0.25">3000</text>
<line x1="658.2" y1="436.8" x2="658.2" y2="441.8" stroke="#333" stroke-width="1"/>
<text transform="translate(658.2 462.6) scale(1 1.12)" font-size="17" text-anchor="middle" stroke="#000" stroke-width="0.25">4000</text>
<text transform="translate(539.4 484.8) scale(1 1.06)" font-size="17.3" text-anchor="middle" stroke="#000" stroke-width="0.25">Temporal delays (ms)</text>
<text transform="translate(373.3 371.8) rotate(-90) scale(1 1.0)" font-size="16.9" text-anchor="middle" stroke="#000" stroke-width="0.25">RTs (ms)</text>
<text transform="translate(514.4 285) scale(1 1.06)" font-size="16.5" text-anchor="middle" stroke="#000" stroke-width="0.25">Right</text>
<rect x="570.5" y="1.5" width="112.5" height="42.3" fill="#fff" stroke="#333" stroke-width="1"/>
<circle cx="579.1" cy="14.4" r="4.4" fill="#000"/>
<path d="M578.7 26.6L582.9 35L574.5 35Z" fill="#000" stroke="#000" stroke-width="0.6" stroke-linejoin="round"/>
<text transform="translate(587.5 18.3) scale(1 0.93)" font-size="11.1" stroke="#000" stroke-width="0.25">approaching sound</text>
<text transform="translate(587.5 34.9) scale(1 0.93)" font-size="11.1" stroke="#000" stroke-width="0.25">receding sound</text>
</svg></body></html>
